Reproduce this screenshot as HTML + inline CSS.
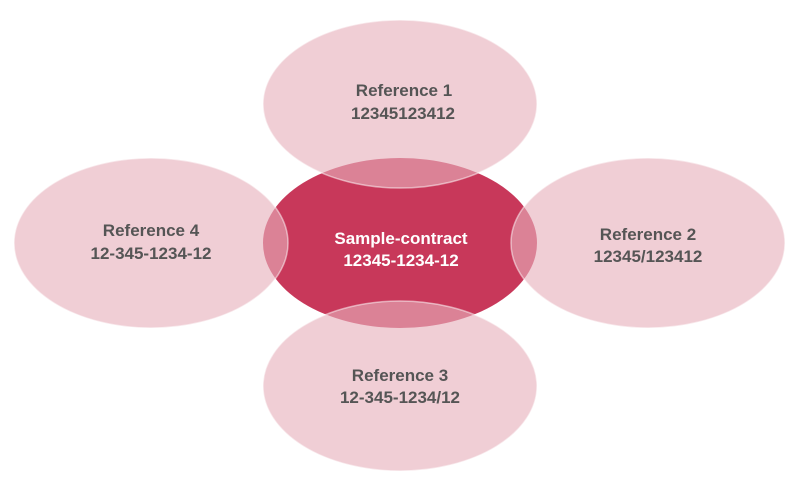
<!DOCTYPE html>
<html><head><meta charset="utf-8"><style>
html,body{margin:0;padding:0;background:#fff;}
svg{display:block;}
text{font-family:"Liberation Sans",sans-serif;font-weight:bold;font-size:17px;text-anchor:middle;}
</style></head><body>
<svg width="800" height="491" viewBox="0 0 800 491" xmlns="http://www.w3.org/2000/svg">
<ellipse cx="400" cy="243" rx="137" ry="85" fill="#c8385a"/>
<g fill="rgba(231,176,188,0.62)" stroke="rgba(255,255,255,0.5)" stroke-width="1.5">
<ellipse cx="400" cy="104" rx="137" ry="84"/>
<ellipse cx="648" cy="243" rx="137" ry="85"/>
<ellipse cx="400" cy="386" rx="137" ry="85"/>
<ellipse cx="151" cy="243" rx="137" ry="85"/>
</g>
<g fill="#555">
<text x="404" y="96">Reference 1</text>
<text x="403" y="119">12345123412</text>
<text x="648" y="240">Reference 2</text>
<text x="648" y="262">12345/123412</text>
<text x="400" y="381">Reference 3</text>
<text x="400" y="403">12-345-1234/12</text>
<text x="151" y="236">Reference 4</text>
<text x="151" y="259">12-345-1234-12</text>
</g>
<g fill="#fff">
<text x="401" y="244">Sample-contract</text>
<text x="401" y="266">12345-1234-12</text>
</g>
</svg>
</body></html>
